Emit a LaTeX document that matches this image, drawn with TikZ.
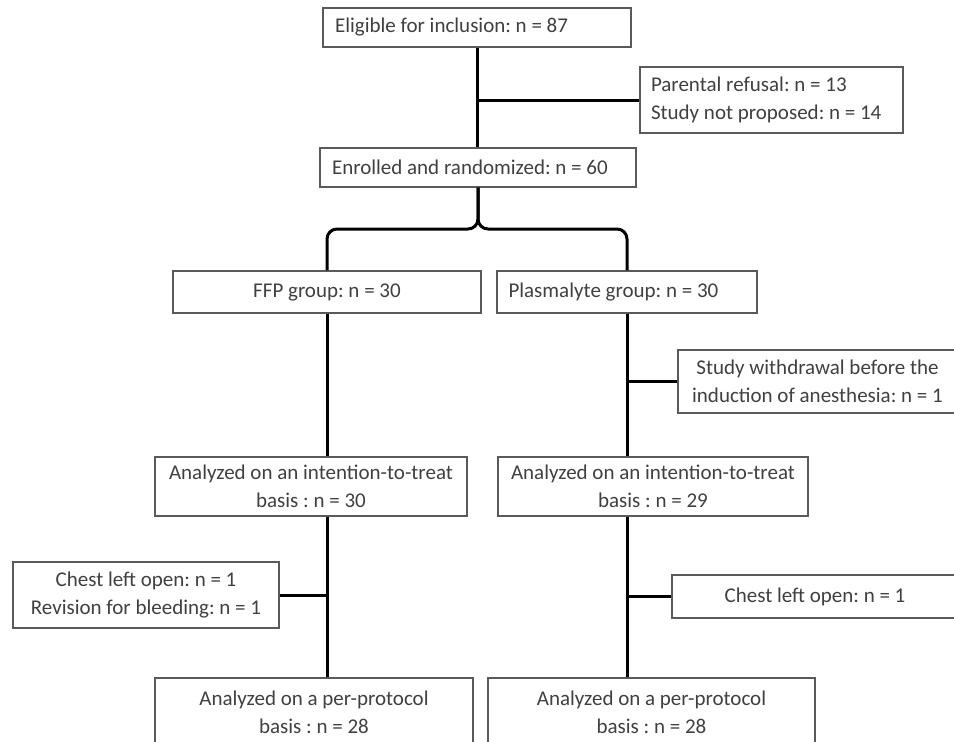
\documentclass[tikz,border=0pt]{standalone}
\usepackage{fontspec}
\setmainfont{Carlito}
\frenchspacing
\definecolor{txt}{HTML}{404040}
\definecolor{frame}{HTML}{5A5A5A}
\begin{document}
\begin{tikzpicture}[x=1pt,y=-1pt,
  box/.style={draw=frame, line width=1.3pt, fill=white, text=txt,
    font=\fontsize{21}{28}\selectfont\frenchspacing, align=center, inner sep=0pt},
  lbox/.style={box, align=flush left, inner xsep=12pt},
  link/.style={line width=3pt, black}]
\useasboundingbox (0,0) rectangle (954,742);
\clip (0,0) rectangle (954,742);
\fill[white] (0,0) rectangle (954,742);

\node[lbox, text width=284pt, minimum height=39pt] (elig) at (477,27.5) {Eligible for inclusion: n = 87};
\node[lbox, text width=241pt, inner xsep=11pt, minimum height=66pt] (parental) at (771.5,100) {Parental refusal: n = 13\\Study not proposed: n = 14};
\node[lbox, text width=292pt, minimum height=39pt] (enrolled) at (478,167.5) {Enrolled and randomized: n = 60};
\node[box, minimum width=308pt, minimum height=42pt] (ffp) at (327,292) {FFP group: n = 30};
\node[lbox, text width=237pt, inner xsep=11.5pt, minimum height=42pt] (plasma) at (627,292) {Plasmalyte group: n = 30};
\node[box, minimum width=279pt, minimum height=63pt] (withdrawal) at (817.5,381.5) {Study withdrawal before the\\induction of anesthesia: n = 1};
\node[box, minimum width=312pt, minimum height=59pt] (itt1) at (311,486.5) {Analyzed on an intention-to-treat\\basis : n = 30};
\node[box, minimum width=310pt, minimum height=59pt] (itt2) at (653,486.5) {Analyzed on an intention-to-treat\\basis : n = 29};
\node[box, minimum width=266pt, minimum height=66pt] (chest1) at (146,595) {Chest left open: n = 1\\Revision for bleeding: n = 1};
\node[box, minimum width=286pt, minimum height=43pt] (chest2) at (815,596.5) {Chest left open: n = 1};
\node[box, minimum width=318pt, minimum height=68pt] (pp1) at (314,712) {Analyzed on a per-protocol\\basis : n = 28};
\node[box, minimum width=327pt, minimum height=68pt] (pp2) at (651.5,712) {Analyzed on a per-protocol\\basis : n = 28};

\draw[link] (elig.south) -- (elig.south |- enrolled.north);
\draw[link] (elig.south |- parental.west) -- (parental.west);
\draw[link, rounded corners=10pt] (enrolled.south) -- (enrolled.south |- 0,229) -| (ffp.north);
\draw[link, rounded corners=10pt] (enrolled.south) -- (enrolled.south |- 0,229) -| (plasma.north);
\draw[link] (ffp.south) -- (ffp.south |- itt1.north);
\draw[link] (plasma.south) -- (plasma.south |- itt2.north);
\draw[link] (plasma.south |- withdrawal.west) -- (withdrawal.west);
\draw[link] (ffp.south |- itt1.south) -- (ffp.south |- pp1.north);
\draw[link] (ffp.south |- chest1.east) -- (chest1.east);
\draw[link] (plasma.south |- itt2.south) -- (plasma.south |- pp2.north);
\draw[link] (plasma.south |- chest2.west) -- (chest2.west);
\end{tikzpicture}
\end{document}
